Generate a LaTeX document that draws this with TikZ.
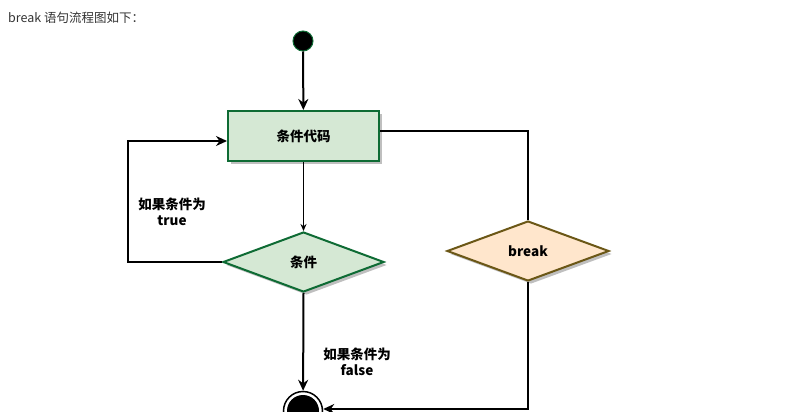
\documentclass[tikz,border=0pt]{standalone}
\usepackage{fontspec}
\setmainfont{Noto Sans CJK SC}
\usetikzlibrary{shapes.geometric,arrows.meta,shadows}
\definecolor{gfill}{HTML}{D5E8D4}
\definecolor{gline}{HTML}{0E6B34}
\definecolor{ofill}{HTML}{FFE6CC}
\definecolor{oline}{HTML}{6B5716}
\definecolor{titlec}{HTML}{333333}
\tikzset{
  shad/.style={drop shadow={shadow xshift=3pt,shadow yshift=-3pt,opacity=0.25,fill=black}},
  codebox/.style={rectangle,draw=gline,fill=gfill,line width=2pt,minimum width=151pt,minimum height=50pt,inner sep=0pt,shad,font=\bfseries\fontsize{13.5}{16}\selectfont},
  gdia/.style={diamond,draw=gline,fill=gfill,line width=2pt,minimum width=161pt,minimum height=60pt,aspect=2.68,inner sep=0pt,shad,font=\bfseries\fontsize{13.5}{16}\selectfont},
  odia/.style={diamond,draw=oline,fill=ofill,line width=2pt,minimum width=162pt,minimum height=60pt,aspect=2.7,inner sep=0pt,shad,font=\bfseries\fontsize{13.5}{16}\selectfont},
  conn/.style={line width=2pt,-{Stealth[length=11pt,width=10pt]}},
  thinconn/.style={line width=1pt,-{Stealth[length=7pt,width=6pt]}},
  plain/.style={line width=2pt},
  lbl/.style={align=center,font=\bfseries\fontsize{13.5}{16}\selectfont}
}
\begin{document}
\begin{tikzpicture}[x=1pt,y=-1pt]
\useasboundingbox (0,0) rectangle (793,412);
\node[anchor=west,text=titlec,font=\fontsize{12.5}{15}\selectfont,inner sep=0pt] (title) at (8,18) {break 语句流程图如下：};
\node[circle,fill=black,draw=gline,line width=1pt,minimum size=20pt,inner sep=0pt] (s) at (303,41) {};
\node[codebox] (code) at (303.5,136) {条件代码};
\node[gdia] (cond) at (303.5,262) {条件};
\node[odia] (brk) at (528,251) {break};
\node[circle,draw=black,fill=white,line width=1.5pt,minimum size=39pt,inner sep=0pt] (e) at (303,411) {};
\fill[black] (e.center) circle (16);
\coordinate (lt) at (128,262);
\coordinate (lb) at (128,141);
\coordinate (rt) at (528,131);
\coordinate (rb) at (528,409);
\draw[conn] (s) -- (code);
\draw[thinconn] (code) -- (cond);
\draw[conn] (cond.west) -- (lt) -- (lb) -- (code.west |- lb);
\draw[conn] (cond.south) -- (e);
\draw[plain] (code.east |- rt) -- (rt) -- (brk.north);
\draw[conn] (brk.south) -- (rb) -- (e.east |- rb);
\node[lbl] (ltrue) at (172,212) {如果条件为\\true};
\node[lbl] (lfalse) at (357,362) {如果条件为\\false};
\end{tikzpicture}
\end{document}
